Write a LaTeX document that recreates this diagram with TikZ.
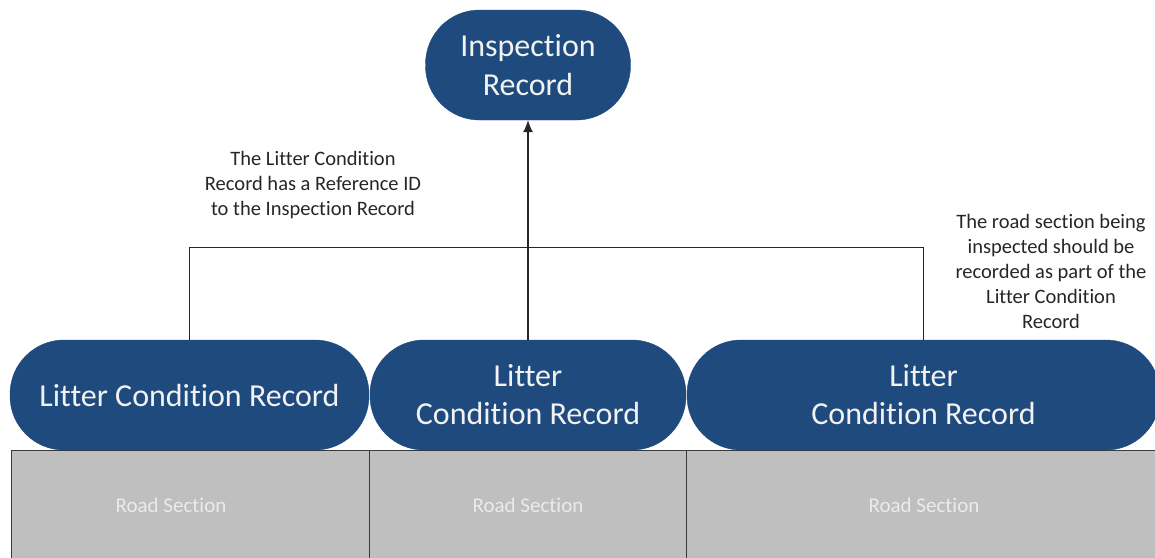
\documentclass[tikz,border=0pt]{standalone}
\usepackage{fontspec}
\setmainfont{Carlito}[Ligatures=NoCommon]
\usetikzlibrary{arrows.meta}
\definecolor{pillblue}{HTML}{1F4A7E}
\definecolor{roadgray}{HTML}{BFBFBF}
\definecolor{roadline}{HTML}{3A3A3A}
\definecolor{notetext}{HTML}{262626}
\begin{document}
\begin{tikzpicture}[x=1pt,y=-1pt,
  pill/.style={fill=pillblue, draw=pillblue, rounded corners=54pt, minimum height=110pt,
    text=white!95!black, font=\fontsize{32}{38}\selectfont, align=center, inner sep=0pt},
  road/.style={fill=roadgray, draw=roadline, line width=1pt, minimum height=130pt, inner sep=0pt, anchor=north west},
  roadtext/.style={text=white!92!black, font=\fontsize{21}{25}\selectfont},
  note/.style={text=notetext, font=\fontsize{20.5}{25}\selectfont, align=center, inner sep=0pt},
  conn/.style={draw=black!85, line width=1.1pt}]
\useasboundingbox (0,0) rectangle (1155,557);
\clip (0,0) rectangle (1155,557);
% road sections
\node[road, minimum width=358pt] (r1) at (11,450) {};
\node[road, minimum width=317pt] (r2) at (369,450) {};
\node[road, minimum width=480pt] (r3) at (686,450) {};
\node[roadtext] (rt1) at (171,505) {Road Section};
\node[roadtext] (rt2) at (528,505) {Road Section};
\node[roadtext] (rt3) at (924,505) {Road Section};
% pills
\node[pill, minimum width=359pt] (l1) at (189.5,395) {Litter Condition Record};
\node[pill, minimum width=316pt] (l2) at (528,395) {Litter\\Condition Record};
\node[pill, minimum width=473pt] (l3) at (923.5,395) {Litter\\Condition Record};
\node[pill, minimum width=205pt, font=\fontsize{32}{39}\selectfont] (insp) at (528,65) {Inspection\\Record};
% connectors
\draw[conn] (l1.north) -- ++(0,-92) coordinate (jl) -| (l3.north);
\draw[conn, -{Latex[length=12pt,width=10pt]}] (l2.north) -- (insp.south);
% notes
\node[note] (n1) at (313,185) {The Litter Condition\\Record has a Reference ID\\to the Inspection Record};
\node[note] (n2) at (1051,271) {The road section being\\inspected should be\\recorded as part of the\\Litter Condition\\Record};
\end{tikzpicture}
\end{document}
